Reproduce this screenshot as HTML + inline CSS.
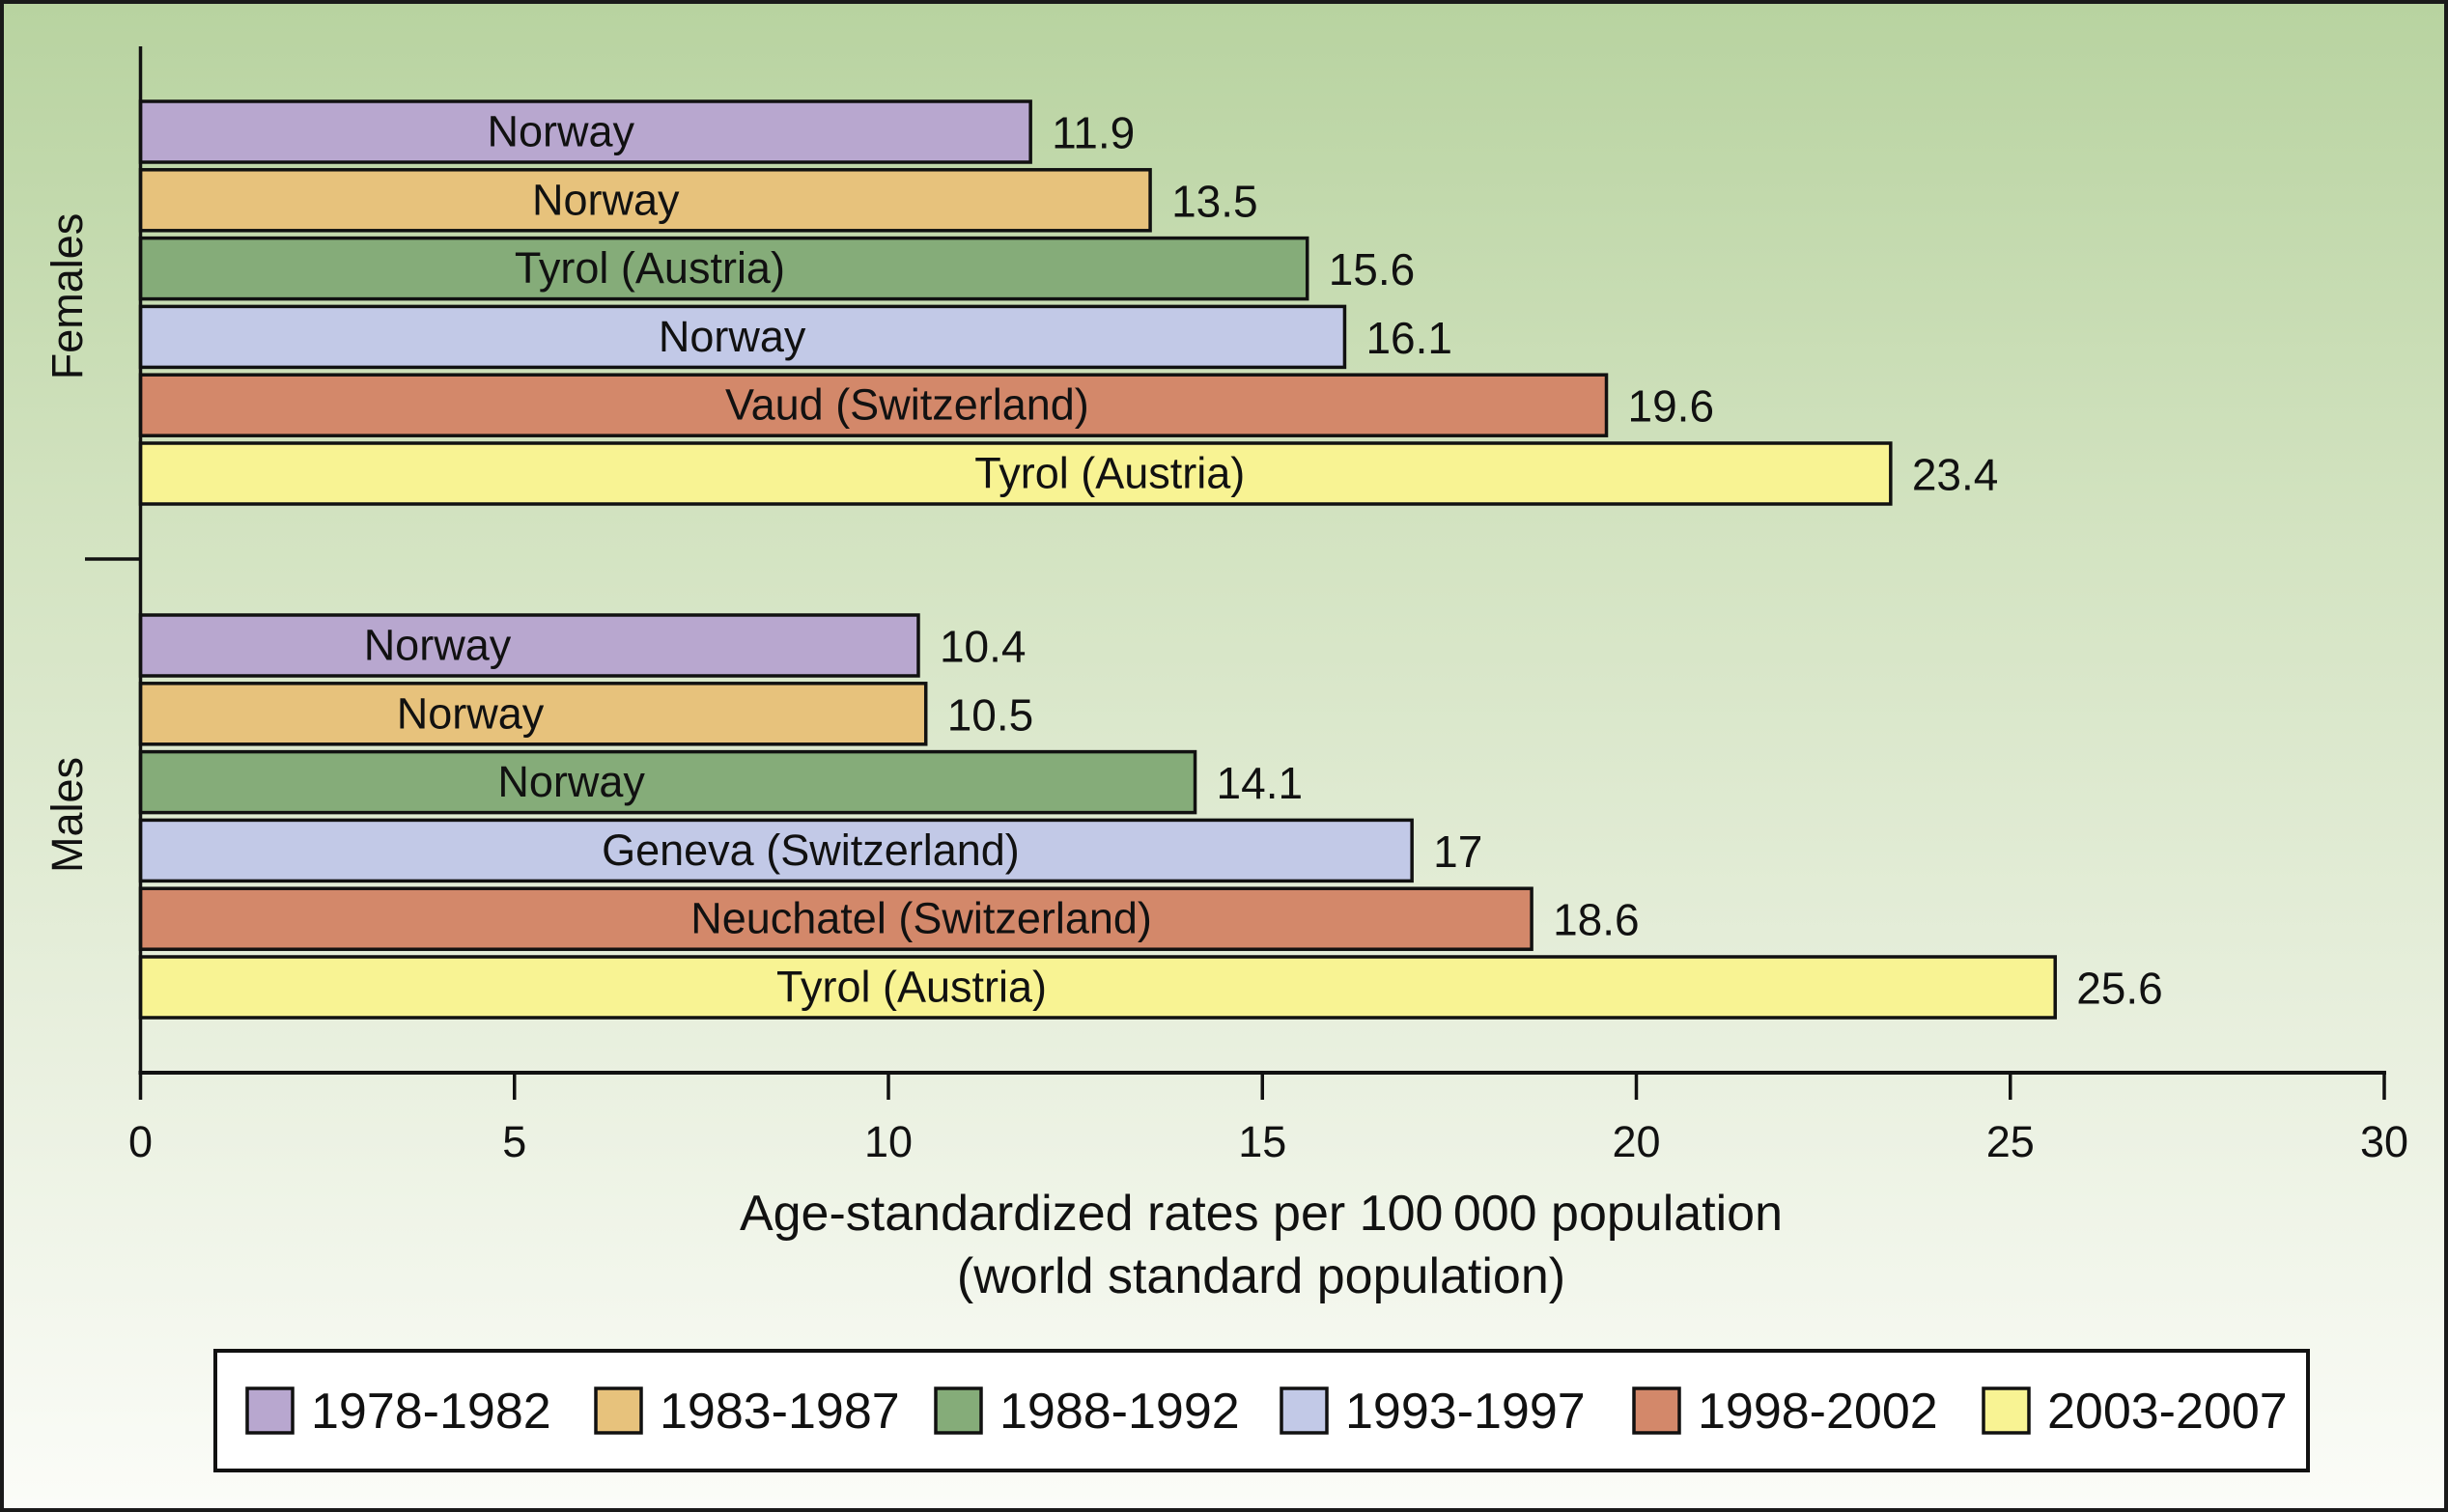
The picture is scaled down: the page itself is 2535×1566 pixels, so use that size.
<!DOCTYPE html>
<html><head><meta charset="utf-8">
<style>
html,body{margin:0;padding:0;}
body{width:2535px;height:1566px;overflow:hidden;font-family:"Liberation Sans",Arial,sans-serif;}
#frame{position:absolute;left:0;top:0;width:2527px;height:1558px;border:4px solid #1a1a1a;background:linear-gradient(180deg,#b8d3a0 0%,#d3e3c1 35%,#e9f0df 70%,#fbfcf8 100%);}
svg{position:absolute;left:0;top:0;}
text{font-family:"Liberation Sans",Arial,sans-serif;fill:#111;}
</style></head>
<body>
<div id="frame"></div>
<svg id="chart" width="2535" height="1566"></svg>
<script>
const periods = ["1978-1982","1983-1987","1988-1992","1993-1997","1998-2002","2003-2007"];
const colors = ["#b8a7cf","#e7c27c","#85ac79","#c2c9e7","#d3886a","#f8f393"];
const femaleValues = [11.9,13.5,15.6,16.1,19.6,23.4];
const femaleLabels = ["Norway","Norway","Tyrol (Austria)","Norway","Vaud (Switzerland)","Tyrol (Austria)"];
const femaleLabelAt = [5.62,6.22,6.81,7.91,10.25,12.96];
const maleValues = [10.4,10.5,14.1,17,18.6,25.6];
const maleLabels = ["Norway","Norway","Norway","Geneva (Switzerland)","Neuchatel (Switzerland)","Tyrol (Austria)"];
const maleLabelAt = [3.97,4.41,5.76,8.96,10.44,10.31];
const xTicks = [0,5,10,15,20,25,30];

const NS="http://www.w3.org/2000/svg";
const svg=document.getElementById('chart');
const x0=145.5, x1=2469, xMax=30;
const xs=v=>x0+(x1-x0)*v/xMax;
const axisY=1111, axisTop=48;
const barH=63, barStep=70.8;
function mk(tag,attrs,parent){const e=document.createElementNS(NS,tag);for(const k in attrs)e.setAttribute(k,attrs[k]);(parent||svg).appendChild(e);return e;}

function drawGroup(vals,labs,at,top,grp){
  const g=mk('g',{});
  
  
  vals.forEach((v,i)=>{
    const y=top+i*barStep;
    const r=mk('rect',{x:xs(0),y:y,width:xs(v)-xs(0),height:barH,fill:colors[i],stroke:'#111','stroke-width':3.5},g);
    
    
    const t=mk('text',{x:xs(at[i]),y:y+barH/2+15,'font-size':45,'text-anchor':'middle'},g);
    t.textContent=labs[i];
    
    
    const vt=mk('text',{x:xs(v)+22,y:y+barH/2+17,'font-size':46},g);
    vt.textContent=String(v);
    
    
  });
}
drawGroup(femaleValues,femaleLabels,femaleLabelAt,105,'female');
drawGroup(maleValues,maleLabels,maleLabelAt,637,'male');

const ya=mk('line',{x1:x0,y1:axisTop,x2:x0,y2:axisY,stroke:'#111','stroke-width':3.5});


const xa=mk('line',{x1:x0-2,y1:axisY,x2:x1+2,y2:axisY,stroke:'#111','stroke-width':4});


const dv=mk('line',{x1:88,y1:579,x2:x0,y2:579,stroke:'#111','stroke-width':3.5});


xTicks.forEach(v=>{
  const l=mk('line',{x1:xs(v),y1:axisY,x2:xs(v),y2:1139,stroke:'#111','stroke-width':3.5});
  
  
  const t=mk('text',{x:xs(v),y:1198,'font-size':45,'text-anchor':'middle'});
  t.textContent=String(v);
  
  
});
const t1=mk('text',{x:1306,y:1274,'font-size':52,'text-anchor':'middle'});
t1.textContent='Age-standardized rates per 100\u2009000 population';


const t2=mk('text',{x:1306,y:1339,'font-size':52,'text-anchor':'middle'});
t2.textContent='(world standard population)';


const gf=mk('text',{x:0,y:0,'font-size':45,'text-anchor':'middle',transform:'translate(85,307) rotate(-90)'});
gf.textContent='Females';


const gm=mk('text',{x:0,y:0,'font-size':45,'text-anchor':'middle',transform:'translate(85,844) rotate(-90)'});
gm.textContent='Males';



const lg=mk('g',{});


const lb=mk('rect',{x:223,y:1399,width:2167,height:124,fill:'#fff',stroke:'#111','stroke-width':4},lg);


const swX=[256,617,969,1327,1692,2054];
periods.forEach((p,i)=>{
  const s=mk('rect',{x:swX[i],y:1438,width:47,height:46,fill:colors[i],stroke:'#111','stroke-width':3.5},lg);
  
  
  const t=mk('text',{x:swX[i]+66,y:1479,'font-size':52},lg);
  t.textContent=p;
  
  
});
</script>
</body></html>
